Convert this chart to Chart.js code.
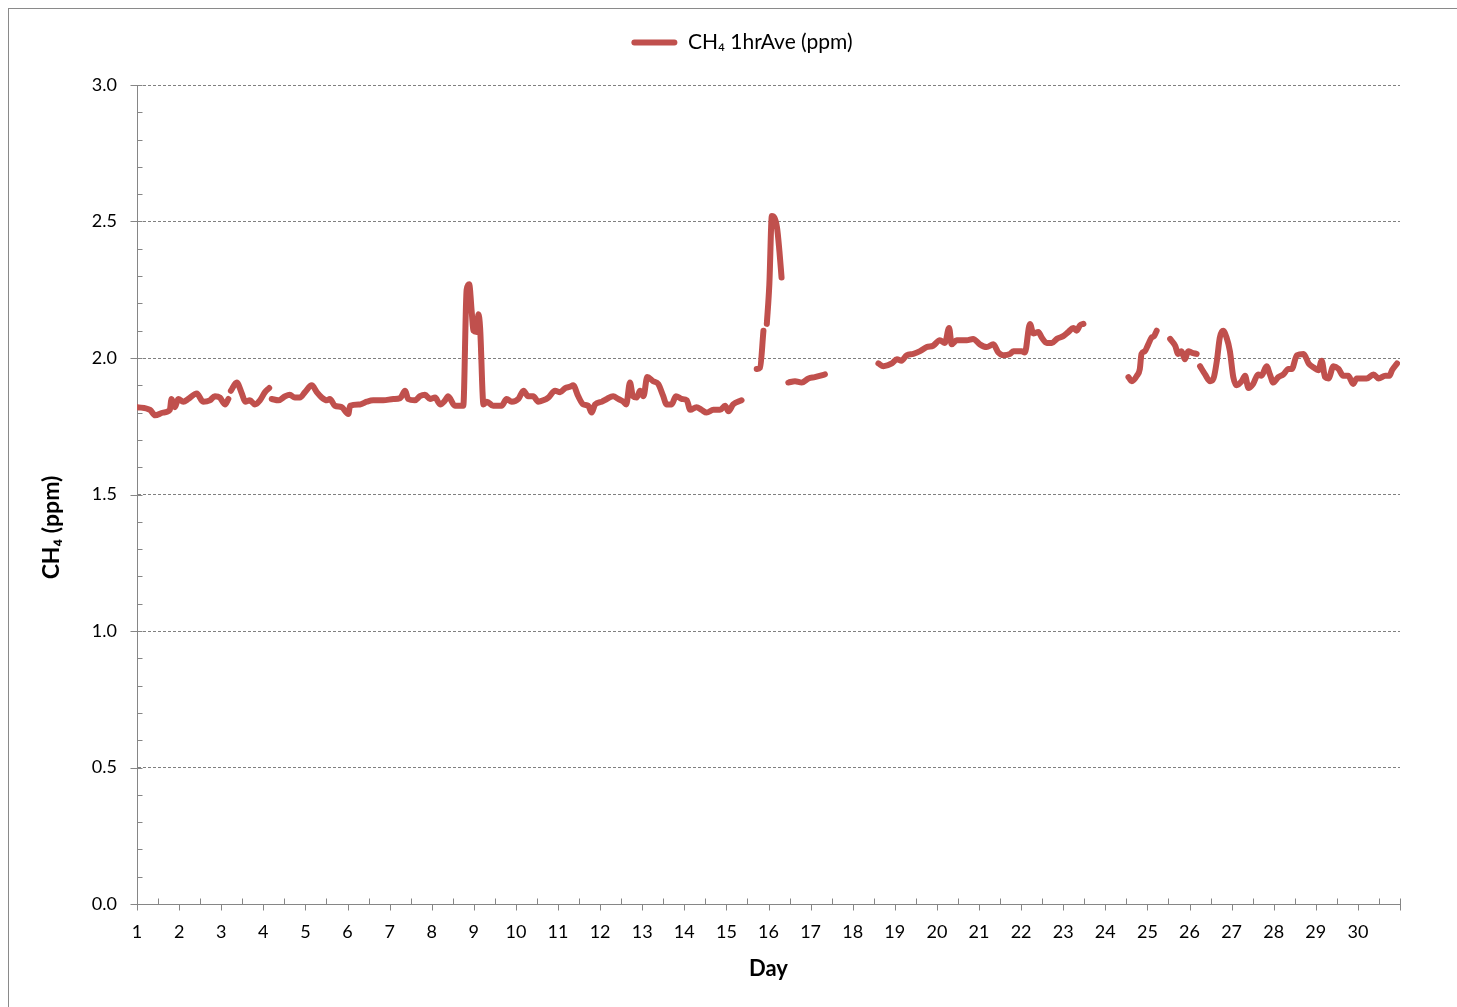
<!DOCTYPE html>
<html>
<head>
<meta charset="utf-8">
<title>CH4 1hrAve</title>
<script src="https://cdn.jsdelivr.net/npm/chart.js@4.4.1/dist/chart.umd.min.js"></script>
<style>
  html, body { margin: 0; padding: 0; background: #fff; overflow: hidden; }
  #marco { position: absolute; left: 8px; top: 8px; width: 2000px; height: 2000px;
           border-left: 1px solid #8a8a8a; border-top: 1px solid #8a8a8a; }
  #grafico { position: absolute; left: 0; top: 0; }
</style>
</head>
<body>
<div id="marco"></div>
<canvas id="grafico" width="1457" height="1007"></canvas>
<script>
/* ******* Datos (dia, ppm). null = hueco sin datos *************************** */
const dias = [
  1.00, 1.31, 1.43, 1.62, 1.78, 1.82, 1.90, 1.98, 2.10, 2.22, 2.42, 2.57, 2.73, 2.85, 2.97, 3.09, 3.17, 3.20,
  3.23, 3.37, 3.49, 3.57, 3.68, 3.80, 3.92, 4.04, 4.14, 4.17,
  4.20, 4.36, 4.52, 4.63, 4.75, 4.87, 4.99, 5.15, 5.27, 5.39, 5.51, 5.58, 5.70, 5.86, 6.02, 6.06, 6.30, 6.46,
  6.61, 6.85, 7.09, 7.25, 7.37, 7.44, 7.60, 7.72, 7.84, 7.96, 8.08, 8.20, 8.32, 8.39, 8.55, 8.75, 8.83, 8.89,
  8.95, 8.99, 9.07, 9.11, 9.15, 9.23, 9.31, 9.46, 9.66, 9.78, 9.90, 10.06, 10.18, 10.29, 10.41, 10.53, 10.65,
  10.77, 10.93, 11.05, 11.17, 11.29, 11.36, 11.48, 11.60, 11.72, 11.80, 11.88, 12.04, 12.16, 12.31, 12.43,
  12.55, 12.62, 12.71, 12.78, 12.87, 12.95, 13.03, 13.12, 13.26, 13.38, 13.50, 13.58, 13.70, 13.80, 13.94,
  14.06, 14.14, 14.29, 14.41, 14.53, 14.69, 14.85, 14.97, 15.05, 15.16, 15.36, 15.50,
  15.72, 15.80, 15.88, 15.92,
  15.96, 16.02, 16.08, 16.20, 16.26, 16.31, 16.40,
  16.47, 16.63, 16.79, 16.95, 17.10, 17.34, 18.00,
  18.61, 18.73, 18.93, 19.05, 19.16, 19.28, 19.44, 19.60, 19.76, 19.91, 20.07, 20.19, 20.29, 20.35, 20.47,
  20.71, 20.86, 21.02, 21.18, 21.34, 21.46, 21.58, 21.74, 21.82, 22.01, 22.09, 22.21, 22.29, 22.41, 22.49,
  22.61, 22.73, 22.85, 23.00, 23.12, 23.24, 23.32, 23.40, 23.48, 24.00,
  24.55, 24.63, 24.75, 24.82, 24.86, 24.94, 25.02, 25.10, 25.16, 25.22, 25.40,
  25.54, 25.66, 25.73, 25.81, 25.89, 25.97, 26.05, 26.17, 26.21,
  26.25, 26.37, 26.49, 26.57, 26.65, 26.72, 26.80, 26.88, 26.96, 27.04, 27.12, 27.24, 27.32, 27.40, 27.51,
  27.63, 27.71, 27.83, 27.91, 27.99, 28.11, 28.23, 28.35, 28.43, 28.55, 28.71, 28.83, 28.95, 29.06, 29.14,
  29.22, 29.30, 29.42, 29.54, 29.65, 29.77, 29.89, 29.97, 30.21, 30.37, 30.49, 30.65, 30.75, 30.81, 30.93
];
const ch4 = [
  1.82, 1.81, 1.79, 1.80, 1.81, 1.85, 1.82, 1.85, 1.84, 1.85, 1.87, 1.84, 1.845, 1.86, 1.855, 1.83, 1.85, null,
  1.88, 1.91, 1.87, 1.84, 1.845, 1.83, 1.845, 1.875, 1.89, null,
  1.85, 1.845, 1.86, 1.865, 1.855, 1.855, 1.875, 1.90, 1.875, 1.855, 1.845, 1.85, 1.825, 1.82, 1.795, 1.825, 1.83, 1.84,
  1.845, 1.845, 1.85, 1.853, 1.88, 1.85, 1.845, 1.86, 1.865, 1.85, 1.855, 1.83, 1.845, 1.86, 1.825, 1.825, 2.25, 2.27,
  2.17, 2.10, 2.095, 2.16, 2.11, 1.83, 1.84, 1.825, 1.825, 1.85, 1.84, 1.85, 1.88, 1.86, 1.86, 1.84, 1.845,
  1.855, 1.88, 1.875, 1.89, 1.895, 1.90, 1.86, 1.83, 1.825, 1.80, 1.83, 1.84, 1.85, 1.86, 1.85,
  1.84, 1.83, 1.91, 1.86, 1.855, 1.88, 1.86, 1.93, 1.915, 1.905, 1.86, 1.83, 1.83, 1.86, 1.85,
  1.845, 1.81, 1.82, 1.81, 1.80, 1.81, 1.81, 1.825, 1.805, 1.83, 1.845, null,
  1.96, 1.965, 2.10, null,
  2.125, 2.27, 2.52, 2.48, 2.39, 2.295, null,
  1.91, 1.915, 1.91, 1.925, 1.93, 1.94, null,
  1.98, 1.97, 1.98, 1.995, 1.99, 2.01, 2.015, 2.025, 2.04, 2.045, 2.065, 2.055, 2.11, 2.05, 2.065,
  2.065, 2.07, 2.05, 2.04, 2.05, 2.02, 2.01, 2.015, 2.025, 2.025, 2.02, 2.125, 2.09, 2.095, 2.075,
  2.055, 2.055, 2.07, 2.08, 2.095, 2.11, 2.10, 2.12, 2.125, null,
  1.93, 1.915, 1.935, 1.96, 2.015, 2.025, 2.05, 2.075, 2.08, 2.10, null,
  2.07, 2.045, 2.015, 2.025, 1.995, 2.025, 2.02, 2.015, null,
  1.97, 1.94, 1.915, 1.925, 1.99, 2.075, 2.10, 2.075, 2.025, 1.93, 1.90, 1.915, 1.935, 1.89, 1.905,
  1.94, 1.935, 1.97, 1.94, 1.91, 1.93, 1.94, 1.96, 1.96, 2.01, 2.015, 1.98, 1.965, 1.955, 1.99,
  1.93, 1.925, 1.97, 1.96, 1.935, 1.935, 1.905, 1.925, 1.925, 1.94, 1.925, 1.935, 1.935, 1.955, 1.98
];
const etiquetaSerie = "CH\u2084 1hrAve (ppm)";
const tituloX = "Day";
const tituloY = "CH\u2084 (ppm)";
const diaMin = 1, diaMax = 31;
const ppmMin = 0, ppmMax = 3;

/* ** Estilos ** */
const rojo = "#c0504d";
const grisEje = "#868686";
const fuente = "Lato, 'Open Sans', sans-serif";

/* **** Marcas de los ejes (mayores hacia fuera, menores hacia dentro) **** */
const marcasEjes = {
  id: "marcasEjes",
  afterDraw(chart) {
    const {ctx, scales: {x, y}} = chart;
    const ejeY = Math.round(y.getPixelForValue(ppmMin)) + 0.5;
    const ejeX = Math.round(x.getPixelForValue(diaMin)) + 0.5;
    ctx.save();
    ctx.strokeStyle = grisEje;
    ctx.lineWidth = 1;
    ctx.beginPath();
    for (let d = diaMin; d <= diaMax; d++) {
      const px = Math.round(x.getPixelForValue(d)) + 0.5;
      ctx.moveTo(px, ejeY);
      ctx.lineTo(px, ejeY + 6);
    }
    for (let d = diaMin + 0.5; d <= diaMax; d += 0.5) {
      if (d % 1 === 0 && d !== diaMax) continue;
      const px = Math.round(x.getPixelForValue(d)) + 0.5;
      ctx.moveTo(px, ejeY);
      ctx.lineTo(px, ejeY - 6);
    }
    for (let i = 0; i <= 30; i++) {
      const py = Math.round(y.getPixelForValue(i / 10)) + 0.5;
      ctx.moveTo(ejeX, py);
      ctx.lineTo(ejeX + 5, py);
      if (i % 5 === 0) {
        ctx.moveTo(ejeX - 7, py);
        ctx.lineTo(ejeX, py);
      }
    }
    ctx.stroke();

    // titulo del eje Y (algo por debajo del centro, como en el original)
    ctx.translate(52, (y.top + y.bottom) / 2 + 33);
    ctx.rotate(-Math.PI / 2);
    ctx.fillStyle = "#000";
    ctx.font = "bold 23px " + fuente;
    ctx.textAlign = "center";
    ctx.textBaseline = "middle";
    ctx.fillText(tituloY, 0, 0);
    ctx.restore();
  }
};

/* ** Espacio extra bajo la leyenda y desplazamiento a la derecha ** */
const ajusteLeyenda = {
  id: "ajusteLeyenda",
  beforeLayout(chart) {
    const ley = chart.legend;
    if (!ley || ley._ajustada) return;
    const fitOriginal = ley.fit;
    ley.fit = function () { fitOriginal.call(this); this.height += 22; };
    ley._ajustada = true;
  },
  afterLayout(chart) {
    const ley = chart.legend;
    if (!ley) return;
    ley.left += 42;
    ley.right += 42;
  }
};

const puntos = dias.map((d, i) => ({x: d, y: ch4[i]}));

const config = {
  type: "line",
  data: {
    datasets: [{
      label: etiquetaSerie,
      data: puntos,
      borderColor: rojo,
      backgroundColor: rojo,
      borderWidth: 6,
      borderCapStyle: "round",
      borderJoinStyle: "round",
      cubicInterpolationMode: "monotone",
      pointRadius: 0,
      spanGaps: false
    }]
  },
  options: {
    responsive: false,
    animation: false,
    devicePixelRatio: 1,
    layout: { padding: { top: 12, right: 57, bottom: 0, left: 0 } },
    plugins: {
      tooltip: { enabled: false },
      legend: {
        position: "top",
        labels: {
          boxWidth: 46,
          boxHeight: 6,
          padding: 20,
          color: "#000",
          font: { family: fuente, size: 21 },
          useBorderRadius: true,
          generateLabels(chart) {
            const items = Chart.defaults.plugins.legend.labels.generateLabels(chart);
            items.forEach(it => { it.lineWidth = 0; it.fillStyle = rojo; it.borderRadius = 3; });
            return items;
          }
        }
      }
    },
    scales: {
      x: {
        type: "linear",
        min: diaMin,
        max: diaMax,
        afterFit(s) { s.height = 103; },
        ticks: {
          stepSize: 1,
          padding: 17,
          maxRotation: 0,
          autoSkip: false,
          color: "#000",
          font: { family: fuente, size: 18 },
          callback: v => (v === diaMax ? "" : v)
        },
        grid: { display: false, drawTicks: false },
        border: { display: true, color: grisEje, width: 1 },
        title: {
          display: true,
          text: tituloX,
          color: "#000",
          font: { family: fuente, size: 22, weight: "bold" },
          padding: { top: 0, bottom: 25 }
        }
      },
      y: {
        min: ppmMin,
        max: ppmMax,
        afterFit(s) { s.width = 137; },
        ticks: {
          stepSize: 0.5,
          padding: 20,
          color: "#000",
          font: { family: fuente, size: 18 },
          callback: v => v.toFixed(1)
        },
        grid: { color: "#808080", lineWidth: 1, drawTicks: false },
        border: { display: true, color: grisEje, width: 1, dash: [3, 2] },
        title: { display: false, text: tituloY }
      }
    }
  },
  plugins: [marcasEjes, ajusteLeyenda]
};

const grafico = new Chart(document.getElementById("grafico"), config);
</script>
</body>
</html>
